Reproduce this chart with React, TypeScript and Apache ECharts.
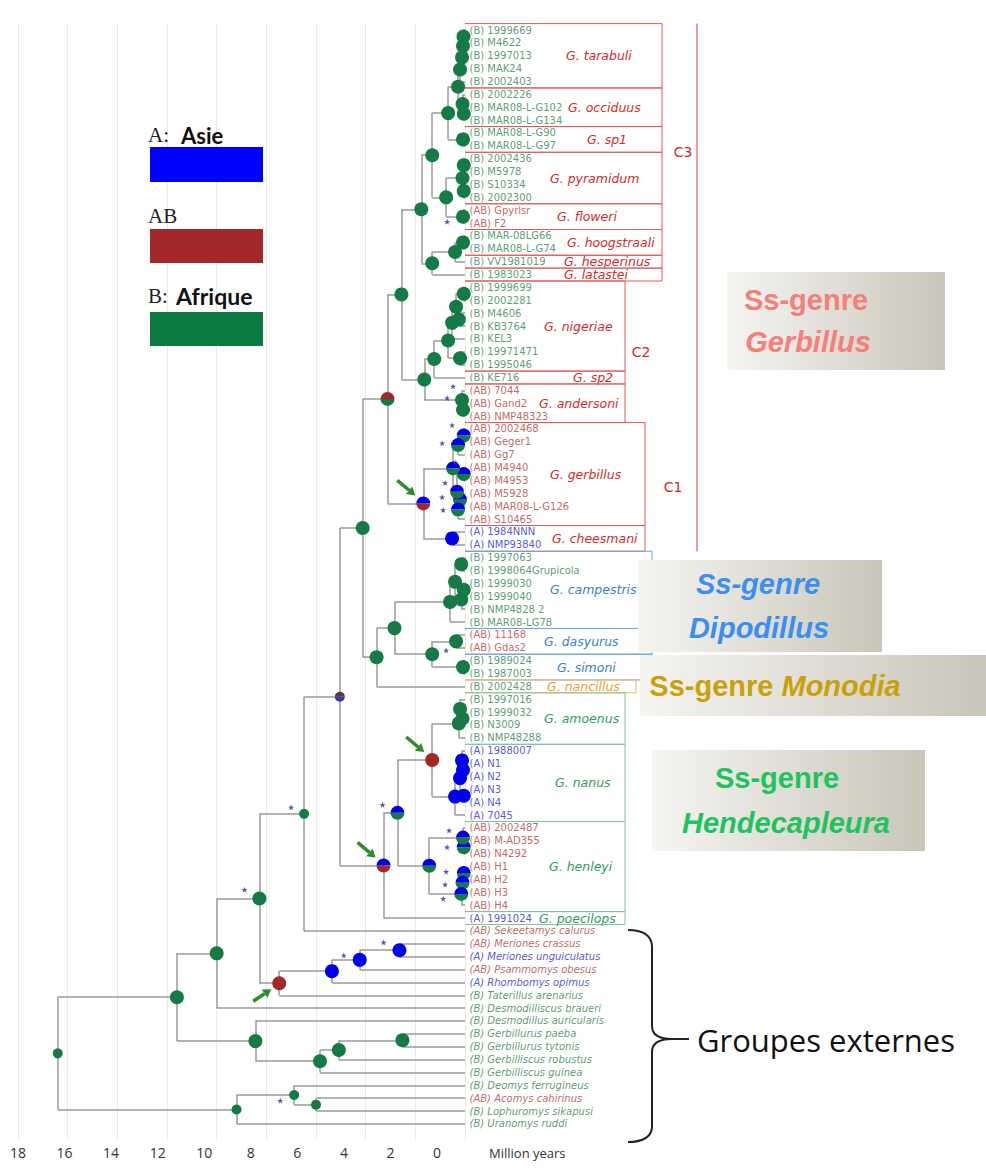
import React, { useEffect, useRef } from "react";
import * as echarts from "echarts";

// ---------------- DATA ----------------
const leafNames: string[] = [
  "(B) 1999669", "(B) M4622", "(B) 1997013", "(B) MAK24", "(B) 2002403",
  "(B) 2002226", "(B) MAR08-L-G102", "(B) MAR08-L-G134", "(B) MAR08-L-G90", "(B) MAR08-L-G97",
  "(B) 2002436", "(B) M5978", "(B) S10334", "(B) 2002300", "(AB) Gpyrlsr",
  "(AB) F2", "(B) MAR-08LG66", "(B) MAR08-L-G74", "(B) VV1981019", "(B) 1983023",
  "(B) 1999699", "(B) 2002281", "(B) M4606", "(B) KB3764", "(B) KEL3",
  "(B) 19971471", "(B) 1995046", "(B) KE716", "(AB) 7044", "(AB) Gand2",
  "(AB) NMP48323", "(AB) 2002468", "(AB) Geger1", "(AB) Gg7", "(AB) M4940",
  "(AB) M4953", "(AB) M5928", "(AB) MAR08-L-G126", "(AB) S10465", "(A) 1984NNN",
  "(A) NMP93840", "(B) 1997063", "(B) 1998064Grupicola", "(B) 1999030", "(B) 1999040",
  "(B) NMP4828 2", "(B) MAR08-LG78", "(AB) 11168", "(AB) Gdas2", "(B) 1989024",
  "(B) 1987003", "(B) 2002428", "(B) 1997016", "(B) 1999032", "(B) N3009",
  "(B) NMP48288", "(A) 1988007", "(A) N1", "(A) N2", "(A) N3",
  "(A) N4", "(A) 7045", "(AB) 2002487", "(AB) M-AD355", "(AB) N4292",
  "(AB) H1", "(AB) H2", "(AB) H3", "(AB) H4", "(A) 1991024",
  "(AB) Sekeetamys calurus", "(AB) Meriones crassus", "(A) Meriones unguiculatus", "(AB) Psammomys obesus", "(A) Rhombomys opimus",
  "(B) Taterillus arenarius", "(B) Desmodilliscus braueri", "(B) Desmodillus auricularis", "(B) Gerbillurus paeba", "(B) Gerbillurus tytonis",
  "(B) Gerbilliscus robustus", "(B) Gerbilliscus guinea", "(B) Deomys ferrugineus", "(AB) Acomys cahirinus", "(B) Lophuromys sikapusi",
  "(B) Uranomys ruddi",
];
const firstOutgroupLeaf = 70;

// Tree nodes: [age (My), area code, ...children]; a child is a leaf index or a node
type TNode = [number, string, ...(number | TNode)[]];
const tarabuli: TNode = [0.2, "B", [0.12, "B", [0.08, "B", [0.06, "B", 0, 1], 2], 3], 4];
const occiduus: TNode = [0.1, "B", 5, [0.05, "B", 6, 7]];
const sp1: TNode = [0.08, "B", 8, 9];
const c3a: TNode = [0.68, "B", [0.28, "B", tarabuli, occiduus], sp1];
const pyramidum: TNode = [0.1, "B", [0.05, "B", 10, 11], [0.05, "B", 12, 13]];
const floweri: TNode = [0.08, "B", 14, 15];
const c3top: TNode = [1.32, "B", c3a, [0.76, "B", pyramidum, floweri]];
const hhl: TNode = [1.32, "B", [0.4, "B", [0.08, "B", 16, 17], 18], 19];
const cladeC3: TNode = [1.76, "B", c3top, hhl];
const nigeriae: TNode = [0.68, "B",
  [0.52, "B", [0.36, "B", [0.05, "B", 20, 21], [0.25, "B", 22, 23]], 24],
  [0.2, "B", 25, 26]];
const andersoni: TNode = [0.12, "B", 28, [0.08, "B", 29, 30]];
const cladeC2: TNode = [1.64, "B", [1.24, "B", nigeriae, 27], andersoni];
const gerbillus: TNode = [0.48, "AB",
  [0.28, "AB", [0.05, "AB", 31, 32], 33],
  [0.32, "AB", [0.05, "AB", 34, 35], [0.28, "AB", [0.2, "AB", 36, 37], 38]]];
const cheesmani: TNode = [0.52, "A", 39, 40];
const cladeC1: TNode = [1.68, "AR", gerbillus, cheesmani];
const subGerbillus: TNode = [3.12, "RB", [2.56, "B", cladeC3, cladeC2], cladeC1];
const campestris: TNode = [0.6, "B",
  [0.4, "B", [0.15, "B", 41, 42], [0.15, "B", [0.05, "B", 43, 44], 45]], 46];
const dasSim: TNode = [1.32, "B", [0.36, "B", 47, 48], [0.08, "B", 49, 50]];
const dipMono: TNode = [3.56, "B", [2.84, "B", campestris, dasSim], 51];
const amoenus: TNode = [0.25, "B", [0.2, "B", 52, [0.1, "B", 53, 54]], 55];
const nanus: TNode = [0.4, "A",
  [0.2, "A", [0.12, "A", 56, [0.08, "A", 57, 58]], [0.05, "A", 59, 60]], 61];
const amoNan: TNode = [1.32, "R", amoenus, nanus];
const henleyi: TNode = [1.44, "AB",
  [0.08, "AB", 62, [0.05, "AB", 63, 64]],
  [0.15, "AB", [0.1, "AB", [0.05, "AB", 65, 66], 67], 68]];
const hendeca: TNode = [3.28, "AR", [2.72, "AB", amoNan, henleyi], 69];
const ingroup: TNode = [5.04, "m", [4.12, "B", subGerbillus, dipMono], hendeca];
const meriones: TNode = [7.48, "R", [5.36, "A", [4.24, "A", [2.64, "A", 71, 72], 73], 74], 75];
const gerbillinae: TNode = [8.28, "B", [6.48, "b", ingroup, 70], meriones];
const southern: TNode = [8.44, "B", 77, [5.84, "B", [5.08, "B", [2.52, "B", 78, 79], 80], 81]];
const murids: TNode = [9.2, "b", [6.88, "b", 82, [6.0, "b", 83, 84]], 85];
const root: TNode = [16.4, "b", [11.6, "B", [10.0, "B", gerbillinae, 76], southern], murids];

// Support stars [age, leaf position]
const starPoints: number[][] = [
  [0.72, 14.9], [0.48, 27.7], [0.72, 28.6], [0.52, 30.7], [0.92, 32.1], [0.4, 33.6],
  [0.8, 35.2], [0.92, 36.3], [0.88, 37.3], [0.76, 48.2], [0.64, 62.2], [0.72, 63.5],
  [0.76, 65.4], [0.8, 66.4], [0.88, 67.5], [3.32, 60.2], [7.0, 60.4], [8.88, 66.8],
  [3.28, 70.9], [4.88, 71.9], [7.44, 83.2],
];
// Nodes pointed at by green arrows (0 = from upper left, 1 = from lower left)
const arrowNodes: [TNode, number][] = [[cladeC1, 0], [amoNan, 0], [hendeca, 0], [meriones, 1]];

// Species groups
const speciesNames = ["G. tarabuli", "G. occiduus", "G. sp1", "G. pyramidum", "G. floweri", "G. hoogstraali",
  "G. hesperinus", "G. latastei", "G. nigeriae", "G. sp2", "G. andersoni", "G. gerbillus", "G. cheesmani",
  "G. campestris", "G. dasyurus", "G. simoni", "G. nancillus", "G. amoenus", "G. nanus", "G. henleyi", "G. poecilops"];
const speciesFirstLeaf = [0, 5, 8, 10, 14, 16, 18, 19, 20, 27, 28, 31, 39, 41, 47, 49, 51, 52, 56, 62, 69];
const speciesLastLeaf = [4, 7, 9, 13, 15, 17, 18, 19, 26, 27, 30, 38, 40, 46, 48, 50, 51, 55, 61, 68, 69];
const cladeNames = ["C3", "C2", "C1"];
const cladeFirstLeaf = [0, 20, 31];
const cladeLastLeaf = [19, 30, 40];
const subgenusLeafSpan = [0, 40];

// ---------------- STYLES ----------------
const GREEN = "#157a45", BLUE = "#0000ee", RED = "#a3282c";
const fills: Record<string, [string, string]> = {
  B: [GREEN, GREEN], A: [BLUE, BLUE], R: [RED, RED], AR: [BLUE, RED], RB: [RED, GREEN],
  AB: [BLUE, GREEN], b: [GREEN, GREEN], m: ["#5c3550", "#3b3b9a"],
};
const groupStyle: Record<string, { line: string; text: string }> = {
  r: { line: "#e05a5a", text: "#d42a2a" },
  u: { line: "#6aa6d8", text: "#3c7fc0" },
  o: { line: "#f2b45a", text: "#e8a030" },
  g: { line: "#7cc49a", text: "#2f9e5c" },
};
const speciesKind = "rrrrrrrrrrrrruuuogggg";
const speciesRightPx = [662, 662, 662, 662, 662, 662, 662, 662, 625, 625, 625, 645, 645, 652, 652, 652, 636, 625, 625, 625, 625];
const speciesTextPx = [566, 568, 587, 550, 557, 567, 564, 564, 544, 573, 539, 550, 552, 550, 544, 557, 547, 544, 555, 549, 539];
const cladeTextPx = [683, 641, 673];

// ---------------- LAYOUT ----------------
const segs: number[][][] = [];
const nodeData: number[][] = [];
const nodeCodes: string[] = [];
const nodeY = new Map<TNode, number>();
function layout(n: number | TNode): number {
  if (typeof n === "number") return n;
  const age = n[0] as number;
  const kids = n.slice(2) as (number | TNode)[];
  const ys = kids.map((k) => layout(k));
  const y = (ys[0] + ys[ys.length - 1]) / 2;
  segs.push([[age, ys[0]], [age, ys[ys.length - 1]]]);
  kids.forEach((k, i) => {
    const ka = typeof k === "number" ? 0 : (k[0] as number);
    segs.push([[age, ys[i]], [ka, ys[i]]]);
  });
  nodeData.push([age, y]);
  nodeCodes.push(n[1] as string);
  nodeY.set(n, y);
  return y;
}
layout(root);

const leafColor = (name: string) =>
  name.startsWith("(AB)") ? "#b23e3a" : name.startsWith("(A)") ? "#2a2ad0" : "#2f8250";

const STAR = "path://M0,-10L2.4,-3.1L9.5,-3.1L3.8,1.2L5.9,8.1L0,3.8L-5.9,8.1L-3.8,1.2L-9.5,-3.1L-2.4,-3.1Z";

function buildOption(): any {
  const boxGrad = () => new echarts.graphic.LinearGradient(0, 0, 1, 0, [
    { offset: 0, color: "#f6f5f2" },
    { offset: 1, color: "#c9c5b8" },
  ]);
  const big = (text: string, x: number, y: number, color: string, italic: boolean) => ({
    type: "text", x, y,
    style: {
      text, fill: color, fontSize: 29, fontWeight: "bold", fontStyle: italic ? "italic" : "normal",
      fontFamily: "Liberation Sans", align: "center", verticalAlign: "middle",
    },
  });
  const line = (x1: number, y1: number, x2: number, y2: number) => ({
    type: "line", shape: { x1, y1, x2, y2 }, style: { stroke: "#222", lineWidth: 2 },
  });
  const curve = (x1: number, y1: number, x2: number, y2: number, cpx1: number, cpy1: number) => ({
    type: "bezierCurve", shape: { x1, y1, x2, y2, cpx1, cpy1 }, style: { stroke: "#222", lineWidth: 2, fill: null },
  });
  const graphics: any[] = [
    // legend
    { type: "text", x: 148, y: 135, style: { text: "A:", fill: "#222", fontSize: 21, fontFamily: "Liberation Serif", verticalAlign: "middle" } },
    { type: "text", x: 181, y: 135, style: { text: "Asie", fill: "#111", fontSize: 22, fontWeight: "bold", fontFamily: "Lato", verticalAlign: "middle" } },
    { type: "rect", shape: { x: 150, y: 147, width: 113, height: 35 }, style: { fill: "#0000ff" } },
    { type: "text", x: 148, y: 216, style: { text: "AB", fill: "#222", fontSize: 21, fontFamily: "Liberation Serif", verticalAlign: "middle" } },
    { type: "rect", shape: { x: 150, y: 229, width: 113, height: 34 }, style: { fill: "#a2282a" } },
    { type: "text", x: 148, y: 296, style: { text: "B:", fill: "#222", fontSize: 21, fontFamily: "Liberation Serif", verticalAlign: "middle" } },
    { type: "text", x: 176, y: 296, style: { text: "Afrique", fill: "#111", fontSize: 23, fontWeight: "bold", fontFamily: "Lato", verticalAlign: "middle" } },
    { type: "rect", shape: { x: 150, y: 312, width: 113, height: 34 }, style: { fill: "#0b7a3e" } },
    // subgenus labels
    { type: "rect", shape: { x: 727, y: 272, width: 218, height: 98 }, style: { fill: boxGrad() } },
    big("Ss-genre", 806, 300, "#f47f7b", false),
    big("Gerbillus", 808, 342, "#f47f7b", true),
    { type: "rect", shape: { x: 638, y: 560, width: 244, height: 92 }, style: { fill: boxGrad() } },
    big("Ss-genre", 758, 584, "#3b8ff2", true),
    big("Dipodillus", 759, 628, "#3b8ff2", true),
    { type: "rect", shape: { x: 640, y: 655, width: 346, height: 61 }, style: { fill: boxGrad() } },
    {
      type: "text", x: 775, y: 686,
      style: {
        text: "{a|Ss-genre }{b|Monodia}", align: "center", verticalAlign: "middle",
        rich: {
          a: { fill: "#c9a20a", color: "#c9a20a", fontSize: 29, fontWeight: "bold", fontFamily: "Liberation Sans" },
          b: { fill: "#c9a20a", color: "#c9a20a", fontSize: 29, fontWeight: "bold", fontStyle: "italic", fontFamily: "Liberation Sans" },
        },
      },
    },
    { type: "rect", shape: { x: 652, y: 750, width: 273, height: 101 }, style: { fill: boxGrad() } },
    big("Ss-genre", 777, 778, "#1fc35e", false),
    big("Hendecapleura", 786, 823, "#1fc35e", true),
    // outgroup brace
    curve(628, 930, 652, 945, 650, 930),
    line(652, 945, 652, 1026),
    curve(652, 1026, 672, 1039, 652, 1039),
    curve(672, 1039, 652, 1052, 652, 1039),
    line(652, 1052, 652, 1128),
    curve(652, 1128, 628, 1142, 650, 1142),
    line(672, 1039, 689, 1039),
    { type: "text", x: 697, y: 1040, style: { text: "Groupes externes", fill: "#111", fontSize: 31, fontFamily: "Open Sans", verticalAlign: "middle" } },
    { type: "text", x: 489, y: 1153, style: { text: "Million years", fill: "#333", fontSize: 13, fontFamily: "Open Sans", verticalAlign: "middle" } },
  ];
  return {
    animation: false,
    backgroundColor: "#ffffff",
    grid: [
      { left: 18, width: 447, top: 23.6, height: 1115.8 },
      { left: 18, width: 419, top: 1139, height: 1 },
    ],
    xAxis: [
      {
        gridIndex: 0, type: "value", min: 0, max: 18, interval: 2, inverse: true,
        axisLine: { show: false }, axisTick: { show: false }, axisLabel: { show: false },
        splitLine: { show: true, lineStyle: { color: "#e9e9e9", width: 1 } },
      },
      {
        gridIndex: 1, type: "value", min: 0, max: 18, interval: 2, inverse: true,
        axisLine: { show: false }, axisTick: { show: false }, splitLine: { show: false },
        axisLabel: { show: true, fontSize: 14, color: "#333", fontFamily: "Open Sans", margin: 5 },
      },
    ],
    yAxis: [
      { gridIndex: 0, type: "value", min: -0.5, max: 86.2, inverse: true, show: false },
      { gridIndex: 1, type: "value", min: 0, max: 1, show: false },
    ],
    series: [
      {
        type: "lines", coordinateSystem: "cartesian2d", xAxisIndex: 0, yAxisIndex: 0, silent: true, z: 2,
        lineStyle: { color: "#9a9a9a", width: 1.5, opacity: 1 },
        data: segs.map((s) => ({ coords: s })),
      },
      {
        type: "custom", xAxisIndex: 0, yAxisIndex: 0, z: 4, silent: true,
        data: nodeData,
        renderItem: (params: any, api: any) => {
          const code = nodeCodes[params.dataIndex];
          const p = api.coord([api.value(0), api.value(1)]);
          const r = code === "b" || code === "m" ? 5 : 7;
          const [top, bottom] = fills[code];
          if (top === bottom) return { type: "circle", shape: { cx: p[0], cy: p[1], r }, style: { fill: top } };
          return {
            type: "group",
            children: [
              { type: "sector", shape: { cx: p[0], cy: p[1], r, r0: 0, startAngle: Math.PI, endAngle: 2 * Math.PI }, style: { fill: top } },
              { type: "sector", shape: { cx: p[0], cy: p[1], r, r0: 0, startAngle: 0, endAngle: Math.PI }, style: { fill: bottom } },
            ],
          };
        },
      },
      {
        type: "scatter", xAxisIndex: 0, yAxisIndex: 0, z: 5, silent: true,
        symbol: STAR, symbolSize: 6, itemStyle: { color: "#2b2ba8" },
        data: starPoints,
      },
      {
        type: "scatter", xAxisIndex: 0, yAxisIndex: 0, z: 3, silent: true, clip: false,
        symbol: "circle", symbolSize: 1, itemStyle: { color: "rgba(0,0,0,0)" },
        data: leafNames.map((name, i) => ({
          name, value: [0, i],
          label: {
            color: leafColor(name),
            fontStyle: i >= firstOutgroupLeaf ? "italic" : "normal",
          },
        })),
        label: { show: true, position: "right", distance: 4, formatter: "{b}", fontSize: 10, fontFamily: "DejaVu Sans" },
        labelLayout: { hideOverlap: false },
      },
      {
        type: "custom", xAxisIndex: 0, yAxisIndex: 0, z: 3, silent: true,
        data: speciesFirstLeaf.map((f, i) => [0, f - 0.5, speciesLastLeaf[i] + 0.5]),
        renderItem: (params: any, api: any) => {
          const i = params.dataIndex;
          const st = groupStyle[speciesKind[i]];
          const x0 = api.coord([0, 0])[0];
          const y1 = api.coord([0, api.value(1)])[1];
          const y2 = api.coord([0, api.value(2)])[1];
          const xr = speciesRightPx[i];
          const ls = { stroke: st.line, lineWidth: 1 };
          return {
            type: "group",
            children: [
              { type: "line", shape: { x1: x0, y1, x2: xr, y2: y1 }, style: ls },
              { type: "line", shape: { x1: x0, y1: y2, x2: xr, y2 }, style: ls },
              { type: "line", shape: { x1: xr, y1, x2: xr, y2 }, style: ls },
              {
                type: "text", x: speciesTextPx[i], y: (y1 + y2) / 2,
                style: { text: speciesNames[i], fill: st.text, fontSize: 12.5, fontStyle: "italic", fontFamily: "DejaVu Sans", align: "left", verticalAlign: "middle" },
              },
            ],
          };
        },
      },
      {
        type: "custom", xAxisIndex: 0, yAxisIndex: 0, z: 3, silent: true,
        data: cladeFirstLeaf.map((f, i) => [0, f - 0.5, cladeLastLeaf[i] + 0.5]),
        renderItem: (params: any, api: any) => {
          const i = params.dataIndex;
          const y1 = api.coord([0, api.value(1)])[1];
          const y2 = api.coord([0, api.value(2)])[1];
          return {
            type: "text", x: cladeTextPx[i], y: (y1 + y2) / 2,
            style: { text: cladeNames[i], fill: "#d42a2a", fontSize: 14, fontFamily: "DejaVu Sans", align: "center", verticalAlign: "middle" },
          };
        },
      },
      {
        type: "custom", xAxisIndex: 0, yAxisIndex: 0, z: 3, silent: true,
        data: [[0, subgenusLeafSpan[0] - 0.5, subgenusLeafSpan[1] + 0.5]],
        renderItem: (params: any, api: any) => {
          const y1 = api.coord([0, api.value(1)])[1];
          const y2 = api.coord([0, api.value(2)])[1];
          return { type: "line", shape: { x1: 697, y1, x2: 697, y2 }, style: { stroke: "#e05a5a", lineWidth: 1.2 } };
        },
      },
      {
        type: "custom", xAxisIndex: 0, yAxisIndex: 0, z: 6, silent: true,
        data: arrowNodes.map(([n, d]) => [n[0] as number, nodeY.get(n) as number, d]),
        renderItem: (params: any, api: any) => {
          const p = api.coord([api.value(0), api.value(1)]);
          const up = api.value(2) === 1;
          const tail = [p[0] - 26, p[1] + (up ? 18 : -23)];
          const tip = [p[0] - 8, p[1] + (up ? 6 : -8)];
          const dx = tip[0] - tail[0], dy = tip[1] - tail[1];
          const L = Math.hypot(dx, dy), ux = dx / L, uy = dy / L;
          const base = [tip[0] - ux * 8, tip[1] - uy * 8];
          const pts = [tip, [base[0] - uy * 5, base[1] + ux * 5], [base[0] + uy * 5, base[1] - ux * 5]];
          return {
            type: "group",
            children: [
              { type: "line", shape: { x1: tail[0], y1: tail[1], x2: base[0], y2: base[1] }, style: { stroke: "#2e8b2e", lineWidth: 3.5 } },
              { type: "polygon", shape: { points: pts }, style: { fill: "#2e8b2e" } },
            ],
          };
        },
      },
    ],
    graphic: graphics.map((g) => ({ ...g, z: 100 })),
  };
}

export default function App() {
  const ref = useRef<HTMLDivElement>(null);
  useEffect(() => {
    if (!ref.current) return;
    const chart = echarts.init(ref.current, undefined, { renderer: "svg" });
    chart.setOption(buildOption());
    return () => chart.dispose();
  }, []);
  return (
    <div
      ref={ref}
      style={{ position: "absolute", left: 0, top: 0, width: 986, height: 1168, background: "#fff" }}
    />
  );
}
